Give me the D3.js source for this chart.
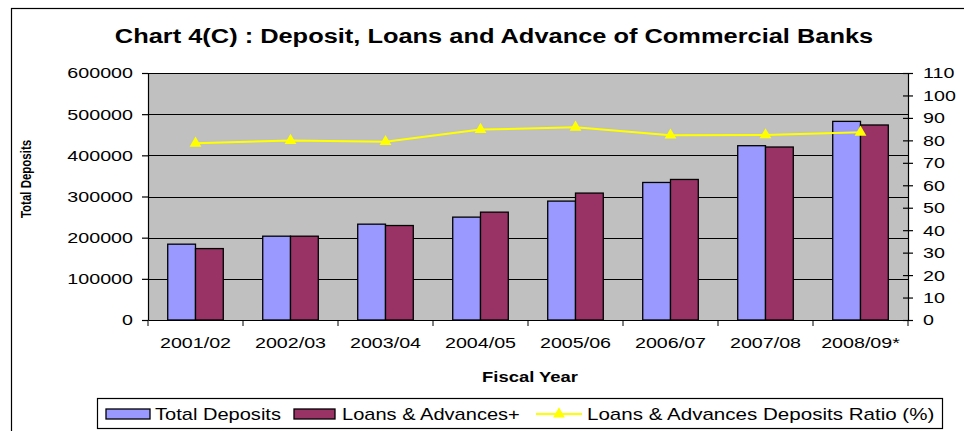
<!DOCTYPE html>
<html>
<head>
    <title>Deposit, Loans and Advance of Commercial Banks</title>
    <script src="https://d3js.org/d3.v7.min.js"></script>
    <style>
        body { margin: 0; background: #fff; }
        svg { display: block; font-family: "Liberation Sans", Arial, sans-serif; }
    </style>
</head>
<body>
    <svg id="chart"></svg>

    <script>
        // data
        const categories = ["2001/02", "2002/03", "2003/04", "2004/05", "2005/06", "2006/07", "2007/08", "2008/09*"];
        const totalDeposits = [184200, 203600, 232800, 249900, 288800, 334100, 423400, 482500];
        const loansAdvances = [173500, 203600, 229500, 262000, 308300, 341400, 420200, 473700];
        const ratio = [78.7, 79.9, 79.4, 84.8, 85.8, 82.3, 82.4, 83.6];
        const leftTicks = [0, 100000, 200000, 300000, 400000, 500000, 600000];
        const rightTicks = [0, 10, 20, 30, 40, 50, 60, 70, 80, 90, 100, 110];

        const width = 964;
        const height = 431;
        const plot = { left: 148, right: 908, top: 73, bottom: 320 };
        const SX = 1.27; // the original text is stretched sideways

        const svg = d3.select("#chart").attr("width", width).attr("height", height);

        // outer frame (runs off the right and bottom)
        svg.append("rect")
            .attr("x", 11.5).attr("y", 8.5)
            .attr("width", 1000).attr("height", 500)
            .attr("fill", "#fff").attr("stroke", "#000").attr("stroke-width", 1.2);

        const x = d3.scaleBand()
            .domain(categories)
            .range([plot.left, plot.right]);

        const xs = d3.scaleBand()
            .domain(["dep", "loan"])
            .range([0, x.bandwidth()])
            .paddingOuter(0.71);

        const y = d3.scaleLinear()
            .domain([0, 600000])
            .range([plot.bottom, plot.top]);

        const y2 = d3.scaleLinear()
            .domain([0, 110])
            .range([plot.bottom, plot.top]);

        // helper for stretched text
        function stretchedText(parent, px, py, txt, size, weight, anchor, rotate) {
            return parent.append("text")
                .attr("transform", `translate(${px},${py}) scale(${SX},1)` + (rotate ? " rotate(-90)" : ""))
                .attr("text-anchor", anchor)
                .style("font-size", size + "px")
                .style("font-weight", weight)
                .text(txt);
        }

        // plot background
        svg.append("rect")
            .attr("x", plot.left).attr("y", plot.top)
            .attr("width", plot.right - plot.left).attr("height", plot.bottom - plot.top)
            .attr("fill", "#c0c0c0");

        // gridlines
        svg.append("g")
            .selectAll("line")
            .data(leftTicks.slice(1))
            .join("line")
            .attr("x1", plot.left).attr("x2", plot.right)
            .attr("y1", d => Math.round(y(d)) + 0.5).attr("y2", d => Math.round(y(d)) + 0.5)
            .attr("stroke", "#000").attr("stroke-width", 1);

        // bars
        const bars = svg.append("g");
        bars.selectAll("rect.dep")
            .data(totalDeposits)
            .join("rect")
            .attr("class", "dep")
            .attr("x", (d, i) => x(categories[i]) + xs("dep"))
            .attr("y", d => y(d))
            .attr("width", xs.bandwidth())
            .attr("height", d => y(0) - y(d))
            .attr("fill", "#9999ff")
            .attr("stroke", "#000").attr("stroke-width", 1.3);

        bars.selectAll("rect.loan")
            .data(loansAdvances)
            .join("rect")
            .attr("class", "loan")
            .attr("x", (d, i) => x(categories[i]) + xs("loan"))
            .attr("y", d => y(d))
            .attr("width", xs.bandwidth())
            .attr("height", d => y(0) - y(d))
            .attr("fill", "#993366")
            .attr("stroke", "#000").attr("stroke-width", 1.3);

        // ratio line on the right axis
        const line = d3.line()
            .x((d, i) => x(categories[i]) + x.bandwidth() / 2)
            .y(d => y2(d));

        svg.append("path")
            .datum(ratio)
            .attr("d", line)
            .attr("fill", "none")
            .attr("stroke", "#ffff00")
            .attr("stroke-width", 2);

        svg.append("g")
            .selectAll("path")
            .data(ratio)
            .join("path")
            .attr("d", d3.symbol(d3.symbolTriangle, 60))
            .attr("transform", (d, i) => `translate(${x(categories[i]) + x.bandwidth() / 2},${y2(d)})`)
            .attr("fill", "#ffff00");

        // left axis
        const leftAxis = svg.append("g")
            .attr("transform", `translate(${plot.left},0)`)
            .call(d3.axisLeft(y).tickValues(leftTicks).tickFormat(d3.format("d")).tickSize(6).tickSizeOuter(0));
        leftAxis.selectAll("text")
            .attr("x", -15 / SX)
            .attr("transform", `scale(${SX},1)`);

        // right axis
        const rightAxis = svg.append("g")
            .attr("transform", `translate(${plot.right},0)`)
            .call(d3.axisRight(y2).tickValues(rightTicks).tickSize(5).tickSizeOuter(0));
        rightAxis.selectAll(".tick line").attr("x1", -5).attr("x2", 5);
        rightAxis.selectAll("text")
            .attr("x", 15 / SX)
            .attr("transform", `scale(${SX},1)`);

        // bottom axis: labels at centres, ticks on the band edges
        const bottomAxis = svg.append("g")
            .attr("transform", `translate(0,${plot.bottom})`)
            .call(d3.axisBottom(x).tickSize(0).tickSizeOuter(0).tickPadding(17));
        bottomAxis.selectAll("text")
            .attr("transform", `scale(${SX},1)`)
            .attr("x", 0);
        bottomAxis.selectAll(".tick")
            .attr("transform", d => `translate(${x(d) + x.bandwidth() / 2},0)`);

        svg.append("g")
            .selectAll("line")
            .data(categories.map(c => x(c)).concat([plot.right]))
            .join("line")
            .attr("x1", d => d).attr("x2", d => d)
            .attr("y1", plot.bottom).attr("y2", plot.bottom + 6)
            .attr("stroke", "#000");

        svg.selectAll(".tick text")
            .style("font-size", "15.5px")
            .attr("fill", "#000");
        svg.selectAll(".domain, .tick line").attr("stroke", "#000").attr("stroke-width", 1.2);

        // titles
        stretchedText(svg, 494, 43, "Chart 4(C) : Deposit, Loans and Advance of Commercial Banks", 20, "bold", "middle");
        stretchedText(svg, 530, 382, "Fiscal Year", 14.5, "bold", "middle");
        stretchedText(svg, 31, 179, "Total Deposits", 11.5, "bold", "middle", true);

        // legend
        const legend = svg.append("g");
        legend.append("rect")
            .attr("x", 97.5).attr("y", 398.5)
            .attr("width", 845).attr("height", 30)
            .attr("fill", "#fff").attr("stroke", "#000").attr("stroke-width", 1.2);

        const legendY = 414;
        legend.append("rect")
            .attr("x", 106).attr("y", legendY - 5).attr("width", 44).attr("height", 10)
            .attr("fill", "#9999ff").attr("stroke", "#000").attr("stroke-width", 1.3);
        stretchedText(legend, 155, legendY + 5.5, "Total Deposits", 15.8, "normal", "start");

        legend.append("rect")
            .attr("x", 294).attr("y", legendY - 5).attr("width", 41).attr("height", 10)
            .attr("fill", "#993366").attr("stroke", "#000").attr("stroke-width", 1.3);
        stretchedText(legend, 342, legendY + 5.5, "Loans & Advances+", 15.8, "normal", "start");

        legend.append("line")
            .attr("x1", 536).attr("x2", 582)
            .attr("y1", legendY).attr("y2", legendY)
            .attr("stroke", "#ffff00").attr("stroke-width", 2);
        legend.append("path")
            .attr("d", d3.symbol(d3.symbolTriangle, 60))
            .attr("transform", `translate(559,${legendY})`)
            .attr("fill", "#ffff00");
        stretchedText(legend, 587, legendY + 5.5, "Loans & Advances Deposits Ratio (%)", 16.2, "normal", "start");
    </script>
</body>
</html>
